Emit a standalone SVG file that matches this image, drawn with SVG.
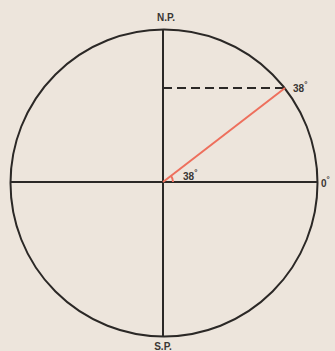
<svg xmlns="http://www.w3.org/2000/svg" width="335" height="351" viewBox="0 0 335 351">
<style>
.ln{stroke:#2b2826;stroke-width:2;fill:none}
.red{stroke:#ee6f5c;stroke-width:2;fill:none}
.lbl{font-family:"Liberation Sans",Arial,sans-serif;font-weight:bold;fill:#3a3634;font-size:10px}
</style>
<rect width="335" height="351" fill="#ede5dc"/>
<g id="globe">
<circle class="ln" cx="164" cy="183" r="153.5"/>
</g>
<g id="connectors">
<line class="ln" x1="163" y1="29" x2="163" y2="337"/>
<line class="ln" x1="11" y1="182" x2="317" y2="182"/>
<line class="ln" x1="163" y1="88" x2="285" y2="88" stroke-dasharray="9,5"/>
<line class="red" x1="163" y1="182" x2="285" y2="88"/>
<path class="red" d="M173,182 A10,10 0 0 0 171,175.8" stroke-width="1.5"/>
</g>
<g id="labels">
<text class="lbl" x="166" y="21" text-anchor="middle">N.P.</text>
<text class="lbl" x="293" y="92">38<tspan font-size="8" dy="-5">°</tspan></text>
<text class="lbl" x="183" y="180">38<tspan font-size="8" dy="-5">°</tspan></text>
<text class="lbl" x="321" y="187" font-size="11">0<tspan font-size="8" dy="-5">°</tspan></text>
<text class="lbl" x="163" y="350" text-anchor="middle">S.P.</text>
</g>
</svg>
